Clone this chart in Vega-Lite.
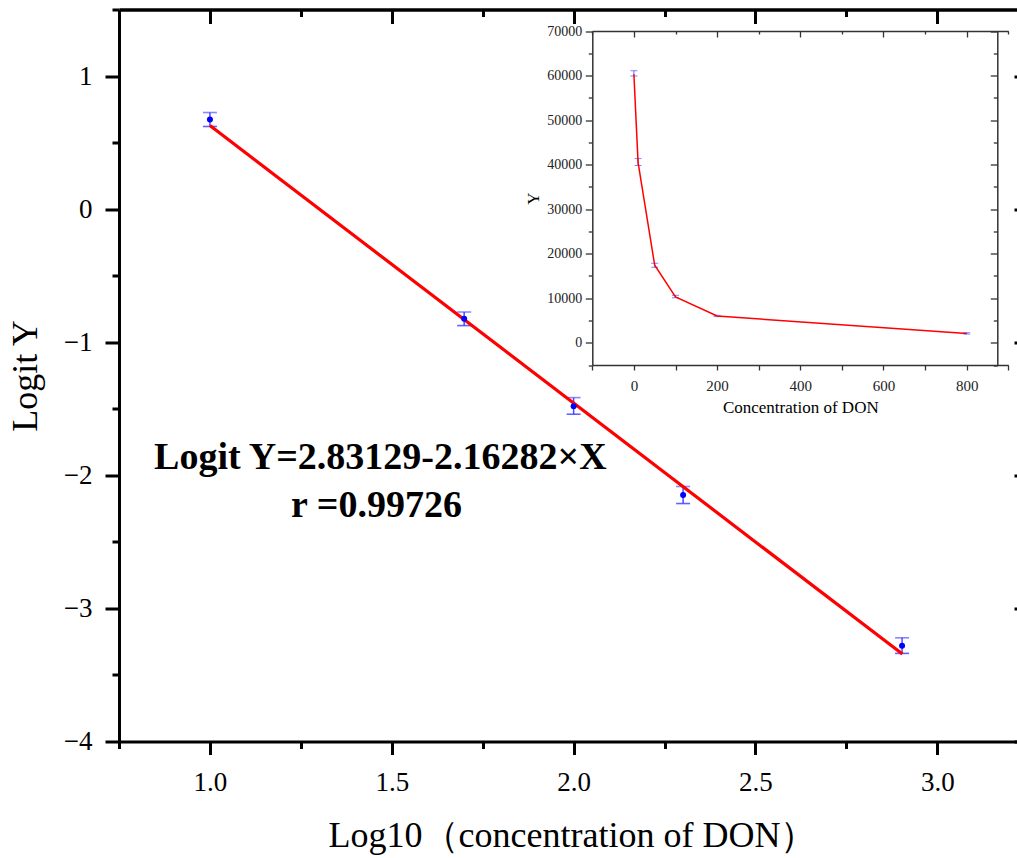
{
  "$schema": "https://vega.github.io/schema/vega-lite/v6.json",
  "width": 898,
  "height": 732,
  "autosize": "none",
  "padding": {"left": 119, "top": 9.5, "right": 0, "bottom": 116.5},
  "background": "white",
  "config": {"view": {"stroke": null}, "font": "Liberation Serif", "axis": {"grid": false, "labelFont": "Liberation Serif", "titleFont": "Liberation Serif"}, "text": {"font": "Liberation Serif"}},
  "datasets": {
    "pts": [
      {"logc": 1.0, "logitY": 0.673, "lo": 0.621, "hi": 0.726},
      {"logc": 1.699, "logitY": -0.823, "lo": -0.875, "hi": -0.773},
      {"logc": 2.0, "logitY": -1.481, "lo": -1.541, "hi": -1.416},
      {"logc": 2.301, "logitY": -2.147, "lo": -2.212, "hi": -2.084},
      {"logc": 2.903, "logitY": -3.281, "lo": -3.338, "hi": -3.221}
    ],
    "fit": [
      {"logc": 1.0, "logitY": 0.628},
      {"logc": 2.904, "logitY": -3.343}
    ],
    "inset": [
      {"conc": 0, "Y": 60300, "lo": 59900, "hi": 61100},
      {"conc": 10, "Y": 40500, "lo": 39800, "hi": 41350},
      {"conc": 50, "Y": 17400, "lo": 16950, "hi": 17850},
      {"conc": 100, "Y": 10300, "lo": 10100, "hi": 10650},
      {"conc": 200, "Y": 6000, "lo": 5860, "hi": 6150},
      {"conc": 800, "Y": 2100, "lo": 1950, "hi": 2250}
    ]
  },
  "resolve": {"scale": {"x": "independent", "y": "independent"}, "axis": {"x": "independent", "y": "independent"}},
  "layer": [
    {
      "layer": [
        {
          "data": {"name": "pts"},
          "mark": {"type": "rule", "color": "#2b2bff", "strokeWidth": 1.5, "opacity": 0.85},
          "encoding": {
            "x": {"field": "logc", "type": "quantitative",
              "scale": {"domain": [0.75, 3.219], "nice": false, "zero": false},
              "axis": {"orient": "bottom",
                "values": [0.75, 1, 1.25, 1.5, 1.75, 2, 2.25, 2.5, 2.75, 3, 3.25],
                "labelExpr": "(datum.value*2)%1===0 ? format(datum.value,'.1f') : ''",
                "tickSize": {"condition": {"test": "(datum.value*2)%1===0", "value": 13}, "value": 7},
                "tickWidth": 3, "tickColor": "black", "domainWidth": 3, "domainColor": "black",
                "labelFontSize": 27, "labelColor": "black", "labelPadding": 15, "labelFont": "Liberation Serif",
                "title": "Log10（concentration of DON）", "titleFontSize": 36, "titleFontWeight": "normal", "titleFont": "Liberation Serif",
                "titleColor": "black", "titleX": 453, "titleY": 104.5, "titleBaseline": "alphabetic", "titleAlign": "center"}},
            "y": {"field": "lo", "type": "quantitative",
              "scale": {"domain": [-4, 1.5], "nice": false, "zero": false},
              "axis": {"orient": "left",
                "values": [-4, -3.5, -3, -2.5, -2, -1.5, -1, -0.5, 0, 0.5, 1, 1.5],
                "labelExpr": "datum.value%1===0 ? format(datum.value,'d') : ''",
                "tickSize": {"condition": {"test": "datum.value%1===0", "value": 14}, "value": 7},
                "tickWidth": 3, "tickColor": "black", "domainWidth": 3, "domainColor": "black",
                "labelFontSize": 27, "labelColor": "black", "labelPadding": 13, "labelFont": "Liberation Serif",
                "title": "Logit Y", "titleFontSize": 36, "titleFontWeight": "normal", "titleColor": "black", "titleFont": "Liberation Serif",
                "titleAngle": -90, "titleX": -94, "titleY": 366, "titleBaseline": "middle", "titleAlign": "center"}},
            "y2": {"field": "hi"}
          }
        },
        {
          "data": {"name": "pts"},
          "mark": {"type": "tick", "orient": "horizontal", "size": 14, "thickness": 1.6, "color": "#3b3bff", "opacity": 0.8},
          "encoding": {
            "x": {"field": "logc", "type": "quantitative"},
            "y": {"field": "lo", "type": "quantitative"}
          }
        },
        {
          "data": {"name": "pts"},
          "mark": {"type": "tick", "orient": "horizontal", "size": 14, "thickness": 1.6, "color": "#3b3bff", "opacity": 0.6},
          "encoding": {
            "x": {"field": "logc", "type": "quantitative"},
            "y": {"field": "hi", "type": "quantitative"}
          }
        },
        {
          "data": {"name": "fit"},
          "mark": {"type": "line", "color": "#ff0000", "strokeWidth": 3.2},
          "encoding": {
            "x": {"field": "logc", "type": "quantitative"},
            "y": {"field": "logitY", "type": "quantitative"}
          }
        },
        {
          "data": {"name": "pts"},
          "mark": {"type": "point", "filled": true, "color": "#0000ff", "size": 36, "opacity": 1},
          "encoding": {
            "x": {"field": "logc", "type": "quantitative"},
            "y": {"field": "logitY", "type": "quantitative"}
          }
        },
        {
          "data": {"values": [{}]},
          "mark": {"type": "text", "text": "Logit Y=2.83129-2.16282×X", "font": "Liberation Serif", "fontSize": 38, "fontWeight": "bold", "color": "black", "align": "center", "baseline": "alphabetic"},
          "encoding": {
            "x": {"datum": 1.4685, "type": "quantitative"},
            "y": {"datum": -1.956, "type": "quantitative"}
          }
        },
        {
          "data": {"values": [{}]},
          "mark": {"type": "text", "text": "r =0.99726", "font": "Liberation Serif", "fontSize": 38, "fontWeight": "bold", "color": "black", "align": "center", "baseline": "alphabetic"},
          "encoding": {
            "x": {"datum": 1.458, "type": "quantitative"},
            "y": {"datum": -2.312, "type": "quantitative"}
          }
        }
      ]
    },
    {
      "data": {"name": "pts"},
      "mark": {"type": "rule", "opacity": 0},
      "encoding": {
        "x": {"field": "logc", "type": "quantitative",
          "scale": {"domain": [0.75, 3.219], "nice": false, "zero": false},
          "axis": {"orient": "top", "labels": false, "title": null,
            "values": [0.75, 1, 1.25, 1.5, 1.75, 2, 2.25, 2.5, 2.75, 3, 3.25],
            "tickSize": {"condition": {"test": "(datum.value*2)%1===0", "value": -14}, "value": -7},
            "tickWidth": 3, "tickColor": "black", "domainWidth": 3.5, "domainColor": "black"}},
        "y": {"field": "logitY", "type": "quantitative",
          "scale": {"domain": [-4, 1.5], "nice": false, "zero": false},
          "axis": {"orient": "right", "labels": false, "title": null, "offset": 11,
            "values": [-4, -3.5, -3, -2.5, -2, -1.5, -1, -0.5, 0, 0.5, 1, 1.5],
            "tickSize": {"condition": {"test": "datum.value%1===0", "value": -14}, "value": -7},
            "tickWidth": 3, "tickColor": "black", "domainWidth": 3, "domainColor": "black"}}
      }
    },
    {
      "data": {"name": "inset"},
      "layer": [
        {
          "mark": {"type": "rule", "color": "#4040ff", "strokeWidth": 1, "opacity": 0.8},
          "encoding": {
            "x": {"field": "conc", "type": "quantitative",
              "scale": {"domain": [-100, 900], "range": [473.3, 889.3], "nice": false, "zero": false},
              "axis": {"orient": "bottom", "offset": -376.5,
                "values": [-100, 0, 100, 200, 300, 400, 500, 600, 700, 800, 900],
                "labelExpr": "datum.value%200===0 ? format(datum.value,'d') : ''",
                "tickSize": 5, "tickWidth": 1.3, "tickColor": "#333333", "domainWidth": 1.5, "domainColor": "#333333",
                "labelFontSize": 15, "labelColor": "#222222", "labelPadding": 8, "labelFont": "Liberation Serif",
                "title": "Concentration of DON", "titleFontSize": 17, "titleFontWeight": "normal", "titleColor": "black", "titleFont": "Liberation Serif",
                "titleX": 681.3, "titleY": 42.5, "titleBaseline": "middle", "titleAlign": "center"}},
            "y": {"field": "lo", "type": "quantitative",
              "scale": {"domain": [-5000, 70000], "range": [355.5, 21.5], "nice": false, "zero": false},
              "axis": {"orient": "left", "offset": -473.3,
                "values": [-5000, 0, 5000, 10000, 15000, 20000, 25000, 30000, 35000, 40000, 45000, 50000, 55000, 60000, 65000, 70000],
                "labelExpr": "datum.value%10000===0 ? format(datum.value,'d') : ''",
                "tickSize": {"condition": {"test": "datum.value%10000===0", "value": 7}, "value": 4},
                "tickWidth": 1.3, "tickColor": "#333333", "domainWidth": 1.5, "domainColor": "#333333",
                "labelFontSize": 14, "labelColor": "#222222", "labelPadding": 3.5, "labelFont": "Liberation Serif",
                "title": "Y", "titleFontSize": 17, "titleFontWeight": "normal", "titleColor": "black", "titleFont": "Liberation Serif",
                "titleAngle": -90, "titleX": -59.3, "titleY": 188.5, "titleBaseline": "middle", "titleAlign": "center"}},
            "y2": {"field": "hi"}
          }
        },
        {
          "mark": {"type": "tick", "orient": "horizontal", "size": 7, "thickness": 1, "color": "#5050ff", "opacity": 0.7},
          "encoding": {
            "x": {"field": "conc", "type": "quantitative"},
            "y": {"field": "lo", "type": "quantitative"}
          }
        },
        {
          "mark": {"type": "tick", "orient": "horizontal", "size": 7, "thickness": 1, "color": "#5050ff", "opacity": 0.7},
          "encoding": {
            "x": {"field": "conc", "type": "quantitative"},
            "y": {"field": "hi", "type": "quantitative"}
          }
        },
        {
          "mark": {"type": "line", "color": "#ff0000", "strokeWidth": 1.5},
          "encoding": {
            "x": {"field": "conc", "type": "quantitative"},
            "y": {"field": "Y", "type": "quantitative"}
          }
        }
      ]
    },
    {
      "data": {"name": "inset"},
      "mark": {"type": "rule", "opacity": 0},
      "encoding": {
        "x": {"field": "conc", "type": "quantitative",
          "scale": {"domain": [-100, 900], "range": [473.3, 889.3], "nice": false, "zero": false},
          "axis": {"orient": "top", "offset": -21.5, "labels": false, "title": null,
            "values": [-100, 0, 100, 200, 300, 400, 500, 600, 700, 800, 900],
            "tickSize": {"condition": {"test": "datum.value%200===0", "value": -6}, "value": -3},
            "tickWidth": 1.3, "tickColor": "#333333", "domainWidth": 1.5, "domainColor": "#333333"}},
        "y": {"field": "Y", "type": "quantitative",
          "scale": {"domain": [-5000, 70000], "range": [355.5, 21.5], "nice": false, "zero": false},
          "axis": {"orient": "right", "offset": -19.7, "labels": false, "title": null,
            "values": [-5000, 0, 5000, 10000, 15000, 20000, 25000, 30000, 35000, 40000, 45000, 50000, 55000, 60000, 65000, 70000],
            "tickSize": {"condition": {"test": "datum.value%10000===0", "value": -7}, "value": -4},
            "tickWidth": 1.3, "tickColor": "#333333", "domainWidth": 1.5, "domainColor": "#333333"}}
      }
    }
  ]
}
